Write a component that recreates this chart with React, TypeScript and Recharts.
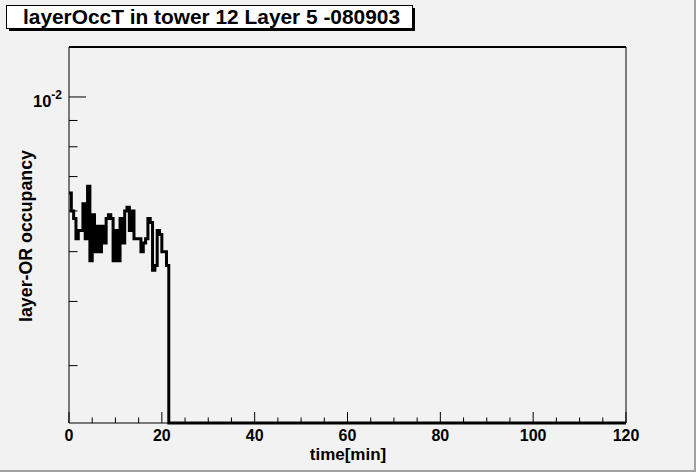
import { LineChart, Line, XAxis, YAxis, ReferenceLine } from "recharts";

// histogram of layer-OR occupancy, 0.5 min bins
const BIN_WIDTH = 0.5;
const T_MAX = 120;
const occupancy = [
  0.0065, 0.006, 0.0058, 0.0053, 0.0055, 0.0055, 0.0062, 0.0053, 0.0067, 0.0048,
  0.0059, 0.005, 0.0056, 0.005, 0.0056, 0.0052, 0.0058, 0.0059, 0.0058, 0.0048,
  0.0055, 0.0048, 0.0058, 0.0052, 0.006, 0.0061, 0.0055, 0.006, 0.0053, 0.0053,
  0.0053, 0.005, 0.0052, 0.0053, 0.0058, 0.0057, 0.0046, 0.0047, 0.0055, 0.0054,
  0.005, 0.005, 0.0047,
];
// bins after the run ended are empty
const emptyBins = [0, 0];

const Y_MIN = 0.00232;
const Y_MAX = 0.01251;
const X_TICKS = [0, 5, 10, 15, 20, 25, 30, 35, 40, 45, 50, 55, 60, 65, 70, 75, 80, 85, 90, 95, 100, 105, 110, 115, 120];
const Y_TICKS = [0.003, 0.004, 0.005, 0.006, 0.007, 0.008, 0.009, 0.01];

const TITLE = "layerOccT in tower 12 Layer 5 -080903";
const X_TITLE = "time[min]";
const Y_TITLE = "layer-OR occupancy";

const FONT = '"Liberation Sans", Arial, Helvetica, sans-serif';

const data = [
  ...occupancy.map((v, i) => ({ t: i * BIN_WIDTH, v })),
  { t: occupancy.length * BIN_WIDTH, v: Math.max(emptyBins[0], Y_MIN) },
  { t: T_MAX, v: Math.max(emptyBins[1], Y_MIN) },
];

function XTick({ x, y, payload }: any) {
  const major = payload.value % 20 === 0;
  return (
    <g>
      <line x1={x} x2={x} y1={y} y2={y - (major ? 11 : 5.5)} stroke="#000" />
      {major && (
        <text x={x} y={y + 18} textAnchor="middle" fontFamily={FONT} fontWeight="bold" fontSize={16} fill="#000">
          {payload.value}
        </text>
      )}
    </g>
  );
}

function YTick({ x, y, payload }: any) {
  const major = payload.value === 0.01;
  return (
    <g>
      <line x1={x} x2={x + (major ? 17 : 8.5)} y1={y} y2={y} stroke="#000" />
      {major && (
        <text x={x - 7} y={y + 10} textAnchor="end" fontFamily={FONT} fontWeight="bold" fontSize={16.5} fill="#000">
          10
          <tspan dy={-8} fontSize={12}>-2</tspan>
        </text>
      )}
    </g>
  );
}

export default function App() {
  return (
    <div
      style={{
        position: "absolute",
        left: 0,
        top: 0,
        width: 696,
        height: 472,
        boxSizing: "border-box",
        background: "#f2f2f2",
        borderRight: "2px solid #a0a0a0",
        borderBottom: "2px solid #a0a0a0",
      }}
    >
      <div style={{ position: "absolute", left: 0, top: 0 }}>
        <LineChart width={696} height={472} data={data} margin={{ top: 47, right: 70, bottom: 48, left: 68 }}>
          <XAxis
            dataKey="t"
            type="number"
            domain={[0, T_MAX]}
            ticks={X_TICKS}
            interval={0}
            height={1}
            tickSize={0}
            tickMargin={0}
            tickLine={false}
            tick={(props: any) => <XTick {...props} />}
            axisLine={{ stroke: "#000", strokeWidth: 1 }}
          />
          <YAxis
            type="number"
            scale="log"
            domain={[Y_MIN, Y_MAX]}
            ticks={Y_TICKS}
            interval={0}
            width={1}
            tickSize={0}
            tickMargin={0}
            tickLine={false}
            tick={(props: any) => <YTick {...props} />}
            axisLine={{ stroke: "#000", strokeWidth: 1 }}
          />
          <ReferenceLine y={Y_MAX} stroke="#000" strokeWidth={2} />
          <ReferenceLine x={T_MAX} stroke="#000" strokeWidth={1} />
          <Line
            type="stepAfter"
            dataKey="v"
            stroke="#000"
            strokeWidth={3}
            dot={false}
            isAnimationActive={false}
          />
        </LineChart>
      </div>
      <svg width={696} height={472} style={{ position: "absolute", left: 0, top: 0, pointerEvents: "none" }}>
        <rect x={9} y={8} width={406} height={23} fill="#000" />
        <rect x={6.5} y={5.5} width={406} height={23} fill="#fff" stroke="#000" />
        <text x={23} y={24} textLength={377} lengthAdjust="spacingAndGlyphs" fontFamily={FONT} fontWeight="bold" fontSize={20} fill="#000">
          {TITLE}
        </text>
        <text x={348} y={460} textAnchor="middle" fontFamily={FONT} fontWeight="bold" fontSize={17} fill="#000">
          {X_TITLE}
        </text>
        <text
          x={0}
          y={0}
          transform="translate(32,236) rotate(-90)"
          textAnchor="middle"
          fontFamily={FONT}
          fontWeight="bold"
          fontSize={17.8}
          fill="#000"
        >
          {Y_TITLE}
        </text>
      </svg>
    </div>
  );
}
